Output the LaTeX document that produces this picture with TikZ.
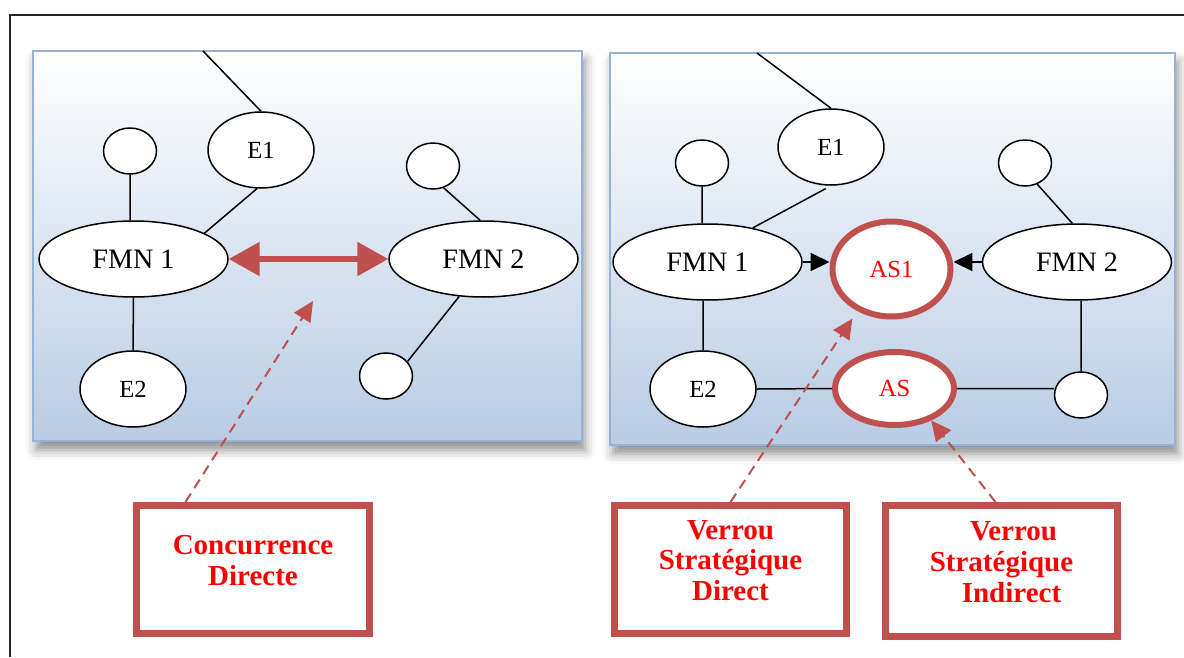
\documentclass[tikz,border=0pt]{standalone}
\usepackage{fontspec}
\setmainfont{Liberation Serif}
\usepackage{tikz}
\usetikzlibrary{arrows.meta}
\usetikzlibrary{shapes.geometric}
\usetikzlibrary{shadows.blur}
\definecolor{asred}{RGB}{192,80,77}
\definecolor{panelblue}{RGB}{184,204,228}
\definecolor{panelline}{RGB}{149,179,215}
\tikzset{
	panel/.style={shape=rectangle,draw=panelline,line width=0.05cm,top color=white,bottom color=panelblue,blur shadow={shadow xshift=0.06cm,shadow yshift=-0.18cm,shadow blur radius=0.2cm,shadow opacity=45}},
	fmn/.style={shape=ellipse,draw,fill=white,line width=0.03cm,inner sep=0pt,minimum width=3.78cm,minimum height=1.52cm,font=\fontsize{16}{18}\selectfont},
	ent/.style={shape=ellipse,draw,fill=white,line width=0.03cm,inner sep=0pt,minimum width=2.12cm,minimum height=1.52cm,font=\fontsize{14}{16}\selectfont},
	dot/.style={shape=ellipse,draw,fill=white,line width=0.03cm,inner sep=0pt,minimum width=1.06cm,minimum height=0.92cm},
	lock/.style={shape=ellipse,draw=asred,line width=0.12cm,fill=white,inner sep=0pt,text=red,font=\fontsize{14}{16}\selectfont},
	verrou/.style={shape=rectangle,draw=asred,line width=0.14cm,fill=white,minimum width=4.66cm},
	verroutext/.style={text=red,align=center,font=\bfseries\fontsize{16.5}{17.5}\selectfont},
	duel/.style={draw=asred,line width=0.11cm,{Triangle[length=0.62cm,width=0.66cm]}-{Triangle[length=0.62cm,width=0.66cm]}},
	hit/.style={line width=0.04cm,-{Triangle[length=0.38cm,width=0.36cm]}},
	hint/.style={draw=asred,line width=0.04cm,dash pattern=on 0.2cm off 0.13cm,-{Triangle[length=0.4cm,width=0.38cm]}},
	link/.style={line width=0.03cm}
}
\newcommand{\drawverrou}[4]{
	\draw #1 node (#2) [verrou,minimum height=#3] {};
	\draw (#2) ++(0,-9) node (#2t) [verroutext] {#4};
}

\begin{document}
\begin{tikzpicture}[x=0.02cm,y=-0.02cm]
	\useasboundingbox (0,0) rectangle (1184,657);
	\draw[line width=0.03cm,black!85] (10,657) -- (10,15) -- (1184,15);

	% concurrence directe
	\draw (307.5,246) node (p1) [panel,minimum width=10.98cm,minimum height=7.8cm] {};
	\draw (130,151) node (c1) [dot] {};
	\draw (261,150) node (e1) [ent] {E1};
	\draw (133.5,259) node (f1) [fmn] {FMN 1};
	\draw (483.5,259) node (f2) [fmn] {FMN 2};
	\draw (433,166) node (c2) [dot] {};
	\draw (133,389) node (e2) [ent] {E2};
	\draw (386,376) node (c3) [dot] {};
	\coordinate (top1) at (203,51);
	\draw[link] (top1) -- (e1.north) (c1.south) -- (c1.south |- f1.north) (e1.-96) -- (f1.20);
	\draw[link] (c2.-64) -- (f2.95) (f1.south) -- (e2.north) (f2.-123) -- (c3.34);
	\draw[duel] (f1.east) -- (f2.west);

	% verrous strategiques
	\draw (892.5,249) node (p2) [panel,minimum width=11.3cm,minimum height=7.84cm] {};
	\draw (702,163) node (c4) [dot] {};
	\draw (831,147) node (e3) [ent] {E1};
	\draw (707.5,262) node (f3) [fmn] {FMN 1};
	\draw (1077,262) node (f4) [fmn] {FMN 2};
	\draw (1025,163) node (c5) [dot] {};
	\draw (891.5,269) node (as1) [lock,minimum width=2.36cm,minimum height=1.9cm] {AS1};
	\draw (703,389) node (e4) [ent] {E2};
	\draw (894.5,388.5) node (as2) [lock,minimum width=2.38cm,minimum height=1.46cm] {AS};
	\draw (1081,395) node (c6) [dot] {};
	\coordinate (top2) at (757,53);
	\draw[link] (top2) -- (e3.north) (c4.south) -- (c4.south |- f3.north);
	\draw[link,shorten <=0.12cm] (e3.south) -- (f3.37);
	\draw[link] (c5.-60) -- (f4.97) (e4.north |- f3.south) -- (e4.north);
	\draw[link] (e4.east) -- (as2.west) (as2.east) -- (as2.east -| c6.west) (c6.north |- f4.south) -- (c6.north);
	\draw[hit] (f3.east) -- (f3.east -| as1.west);
	\draw[hit] (f4.west) -- (f4.west -| as1.east);

	\drawverrou{(253,569.5)}{b1}{2.56cm}{Concurrence\\Directe}
	\drawverrou{(730.5,569.5)}{b2}{2.56cm}{Verrou\\Stratégique\\Direct}
	\drawverrou{(1001.5,571)}{b3}{2.62cm}{\hspace*{0.48cm}Verrou\\Stratégique\\\hspace*{0.4cm}Indirect}

	\coordinate (t1) at (313,301);
	\draw[hint] (b1.135) -- (t1);
	\draw[hint,shorten >=0.18cm] (b2.north) -- (as1.-129);
	\draw[hint] (b3.95) -- (as2.-41);
\end{tikzpicture}
\end{document}
